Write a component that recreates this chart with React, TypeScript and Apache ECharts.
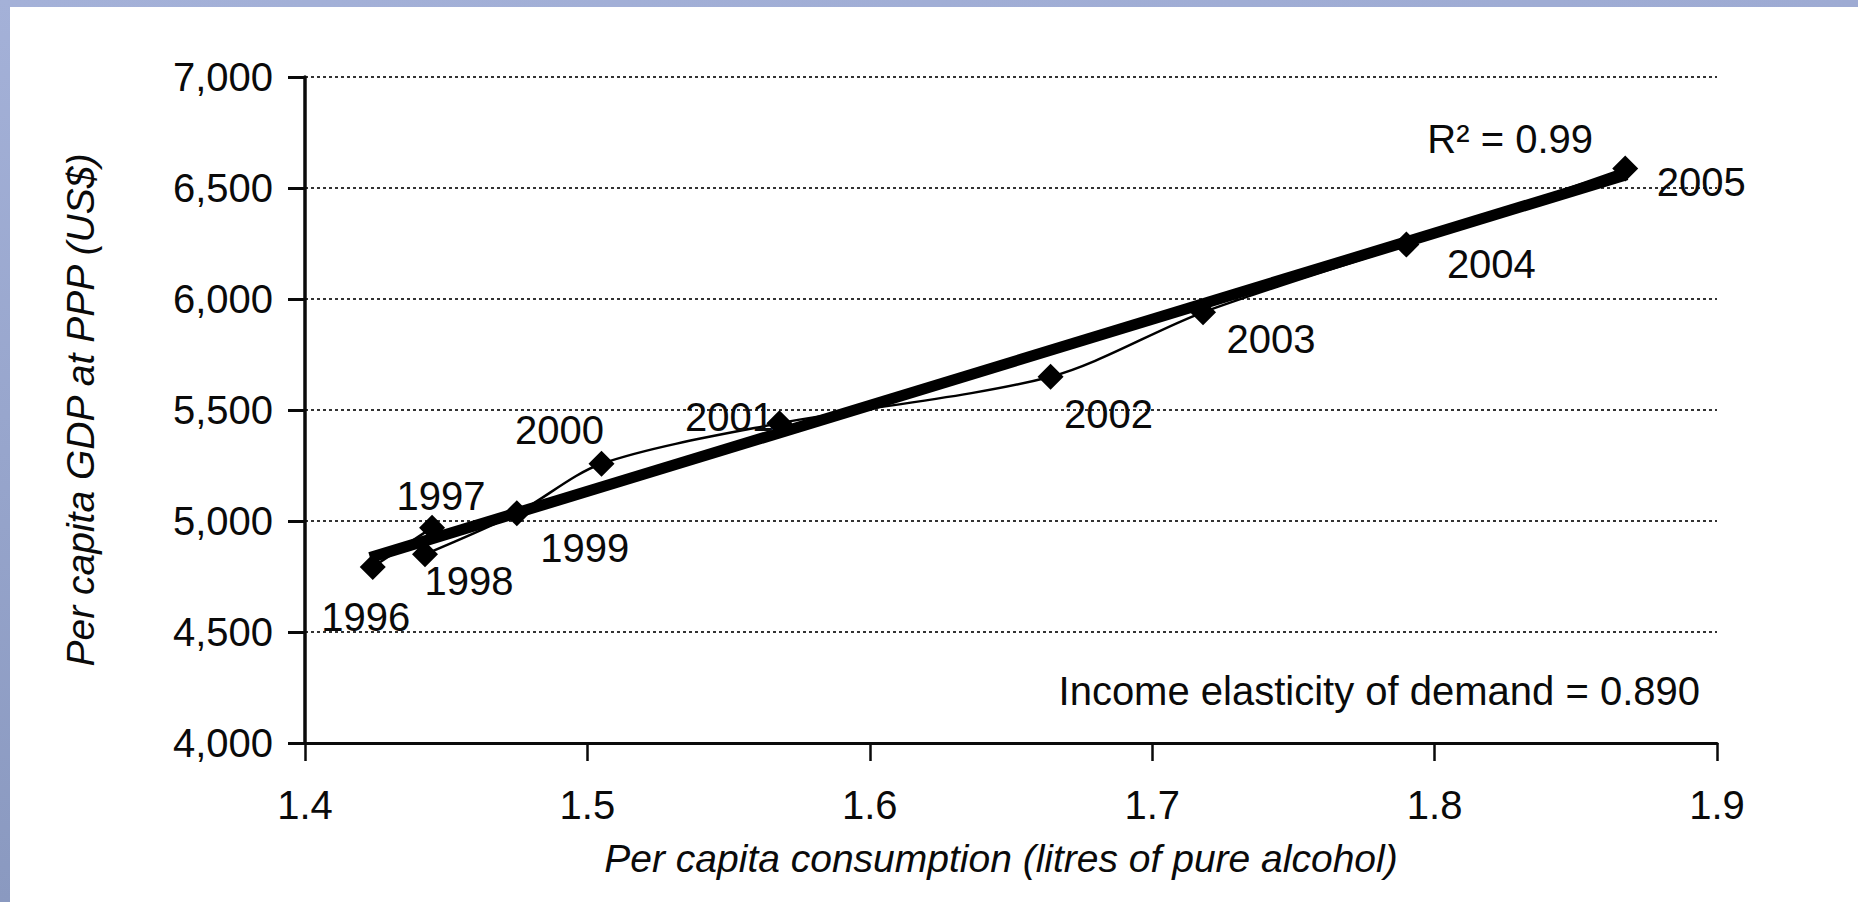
import React, { useEffect, useRef } from "react";
import * as echarts from "echarts";

const years = ["1996", "1997", "1998", "1999", "2000", "2001", "2002", "2003", "2004", "2005"];
const consumption = [1.424, 1.445, 1.4425, 1.475, 1.505, 1.568, 1.664, 1.718, 1.79, 1.8675];
const gdp = [4793, 4970, 4850, 5035, 5258, 5440, 5650, 5940, 6245, 6588];
const trendX = [1.423, 1.868];
const trendY = [4835, 6560];
const rSquaredText = "R\u00b2 = 0.99";
const elasticityText = "Income elasticity of demand = 0.890";
const xAxisName = "Per capita consumption (litres of pure alcohol)";
const yAxisName = "Per capita GDP at PPP (US$)";

// label placement relative to each marker (layout only)
const labelOffsets: [number, number][] = [
  [-7, 50], [9, -32], [44, 27], [68, 35], [-42, -34],
  [-50, -6], [58, 37], [68, 27], [85, 19], [76, 14],
];

const FONT = "'Liberation Sans', Arial, sans-serif";

export default function App() {
  const ref = useRef<HTMLDivElement>(null);
  useEffect(() => {
    if (!ref.current) return;
    const chart = echarts.init(ref.current, undefined, { renderer: "svg" });
    const pointData = consumption.map((x, i) => ({
      value: [x, gdp[i]],
      label: { offset: labelOffsets[i], formatter: years[i] },
    }));
    const trendData = trendX.map((x, i) => [x, trendY[i]]);
    chart.setOption({
      animation: false,
      backgroundColor: "#ffffff",
      textStyle: { fontFamily: FONT },
      grid: { left: 305, right: 141, top: 77, bottom: 159, containLabel: false },
      xAxis: {
        type: "value",
        min: 1.4,
        max: 1.9,
        interval: 0.1,
        name: xAxisName,
        nameLocation: "middle",
        nameGap: 96,
        nameTextStyle: { fontFamily: FONT, fontSize: 39, fontStyle: "italic", color: "#0a0a0a", padding: [0, 20, 0, 0] },
        axisLine: { show: true, onZero: false, lineStyle: { color: "#0a0a0a", width: 3 } },
        axisTick: { show: true, inside: false, length: 18, lineStyle: { color: "#0a0a0a", width: 2.5 } },
        axisLabel: {
          fontFamily: FONT,
          fontSize: 40,
          color: "#0a0a0a",
          margin: 42,
          formatter: (v: number) => v.toFixed(1),
        },
        splitLine: { show: false },
      },
      yAxis: {
        type: "value",
        min: 4000,
        max: 7000,
        interval: 500,
        name: yAxisName,
        nameLocation: "middle",
        nameGap: 205,
        nameRotate: 90,
        nameTextStyle: { fontFamily: FONT, fontSize: 39, fontStyle: "italic", color: "#0a0a0a" },
        axisLine: { show: true, onZero: false, lineStyle: { color: "#0a0a0a", width: 3.5 } },
        axisTick: { show: true, inside: false, length: 17, lineStyle: { color: "#0a0a0a", width: 3 } },
        axisLabel: {
          fontFamily: FONT,
          fontSize: 40,
          color: "#0a0a0a",
          margin: 32,
          formatter: (v: number) => v.toLocaleString("en-US"),
        },
        splitLine: { show: true, lineStyle: { color: "#333", width: 2, type: [3, 3] } },
      },
      series: [
        {
          type: "line",
          name: "trend",
          data: trendData,
          symbol: "none",
          lineStyle: { color: "#000", width: 11 },
          z: 3,
        },
        {
          type: "line",
          name: "GDP",
          data: pointData,
          smooth: 0.3,
          symbol: "diamond",
          symbolSize: 26,
          itemStyle: { color: "#000" },
          lineStyle: { color: "#000", width: 2.5 },
          label: {
            show: true,
            position: "inside",
            fontFamily: FONT,
            fontSize: 40,
            color: "#0a0a0a",
          },
          z: 4,
        },
      ],
      graphic: [
        {
          type: "rect",
          z: 100,
          shape: { x: 0, y: 0, width: 1858, height: 7 },
          style: {
            fill: new echarts.graphic.LinearGradient(0, 0, 1, 0, [
              { offset: 0, color: "#a4b1d8" },
              { offset: 1, color: "#9eabd3" },
            ]),
          },
        },
        {
          type: "rect",
          z: 100,
          shape: { x: 0, y: 0, width: 10, height: 902 },
          style: {
            fill: new echarts.graphic.LinearGradient(0, 0, 0, 1, [
              { offset: 0, color: "#a4b1d8" },
              { offset: 1, color: "#8a99c0" },
            ]),
          },
        },
        {
          type: "text",
          z: 100,
          x: 1593,
          y: 139,
          style: {
            text: rSquaredText,
            font: `40px ${FONT}`,
            fill: "#0a0a0a",
            align: "right",
            verticalAlign: "middle",
          },
        },
        {
          type: "text",
          z: 100,
          x: 1700,
          y: 691,
          style: {
            text: elasticityText,
            font: `40px ${FONT}`,
            fill: "#0a0a0a",
            align: "right",
            verticalAlign: "middle",
          },
        },
      ],
    });
    return () => chart.dispose();
  }, []);
  return (
    <div style={{ position: "fixed", left: 0, top: 0, width: 1858, height: 902, background: "#fff" }}>
      <div ref={ref} style={{ width: 1858, height: 902 }} />
    </div>
  );
}
